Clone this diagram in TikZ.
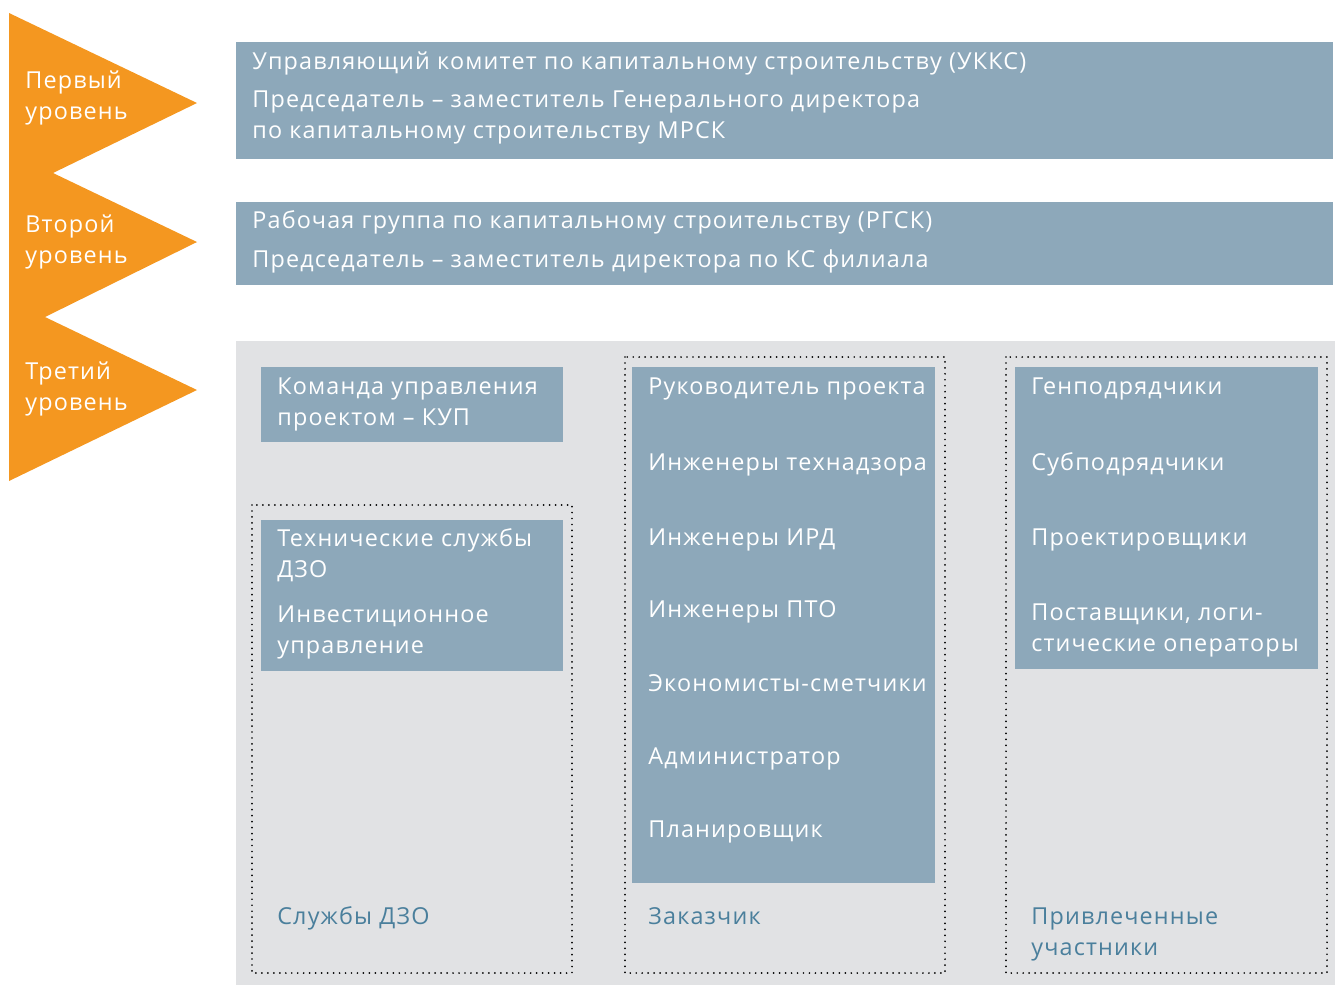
\documentclass[tikz,border=0pt]{standalone}
\usepackage{fontspec}
\setmainfont[LetterSpace=5.0]{Open Sans}
\definecolor{lvlorange}{HTML}{F49720}
\definecolor{boxblue}{HTML}{8DA8BA}
\definecolor{bggray}{HTML}{E1E2E4}
\definecolor{labelblue}{HTML}{4A7F9C}
\tikzset{
	boxtext/.style={anchor=base west, inner sep=0pt, align=left, text=white, font=\fontsize{13.3}{17.4}\selectfont},
	grouplabel/.style={boxtext, text=labelblue},
	dotframe/.style={draw=black, line width=1.1pt, dash pattern=on 0pt off 3.4pt, line cap=round}
}
\begin{document}
\begin{tikzpicture}[x=0.02cm, y=-0.02cm]
		\useasboundingbox (0,0) rectangle (1335,985);
		%levels (multi-line texts sit on their last baseline)
		\fill[lvlorange] (9,13) -- (197,103) -- (53,173) -- (197,242) -- (45,317) -- (197,390) -- (9,481) -- cycle;
		\node[boxtext] (lvl1) at (25, 119){Первый\\уровень};
		\node[boxtext] (lvl2) at (25, 263){Второй\\уровень};
		\node[boxtext] (lvl3) at (25, 410){Третий\\уровень};
		
		%first and second level
		\fill[boxblue] (236,42) rectangle (1333,159);
		\fill[boxblue] (236,202) rectangle (1333,285);
		\node[boxtext] (ukks) at (252, 69){Управляющий комитет по капитальному строительству (УККС)};
		\node[boxtext] (ukkschair) at (252, 138){Председатель – заместитель Генерального директора\\по капитальному строительству МРСК};
		\node[boxtext] (rgsk) at (252, 228){Рабочая группа по капитальному строительству (РГСК)};
		\node[boxtext] (rgskchair) at (252, 267){Председатель – заместитель директора по КС филиала};
		
		%third level
		\fill[bggray] (236,341) rectangle (1335,985);
		\fill[boxblue] (261,367) rectangle (563,442);
		\node[boxtext] (kup) at (277, 425){Команда управления\\проектом – КУП};
		
		\draw[dotframe] (252,505) rectangle (572,973);
		\draw[dotframe] (625,357) rectangle (945,973);
		\draw[dotframe] (1006,357) rectangle (1327,973);
		
		\fill[boxblue] (261,520) rectangle (563,671);
		\node[boxtext] (tech) at (277, 577){Технические службы\\ДЗО};
		\node[boxtext] (invest) at (277, 653){Инвестиционное\\управление};
		
		\fill[boxblue] (632,367) rectangle (935,883);
		\foreach \t/\y [count=\i] in {Руководитель проекта/394, Инженеры технадзора/470, Инженеры ИРД/545, Инженеры ПТО/617, Экономисты-сметчики/691, Администратор/764, Планировщик/837}{
			\node[boxtext] (cust\i) at (648, \y){\t};
		}
		
		\fill[boxblue] (1015,367) rectangle (1318,669);
		\foreach \t/\y [count=\i] in {Генподрядчики/394, Субподрядчики/470, Проектировщики/545}{
			\node[boxtext] (part\i) at (1031, \y){\t};
		}
		\node[boxtext] (part4) at (1031, 651){Поставщики, логи-\\стические операторы};
		
		\node[grouplabel] (dzo) at (277, 924){Службы ДЗО};
		\node[grouplabel] (customer) at (648, 924){Заказчик};
		\node[grouplabel] (involved) at (1031, 955){Привлеченные\\участники};
\end{tikzpicture}
\end{document}
